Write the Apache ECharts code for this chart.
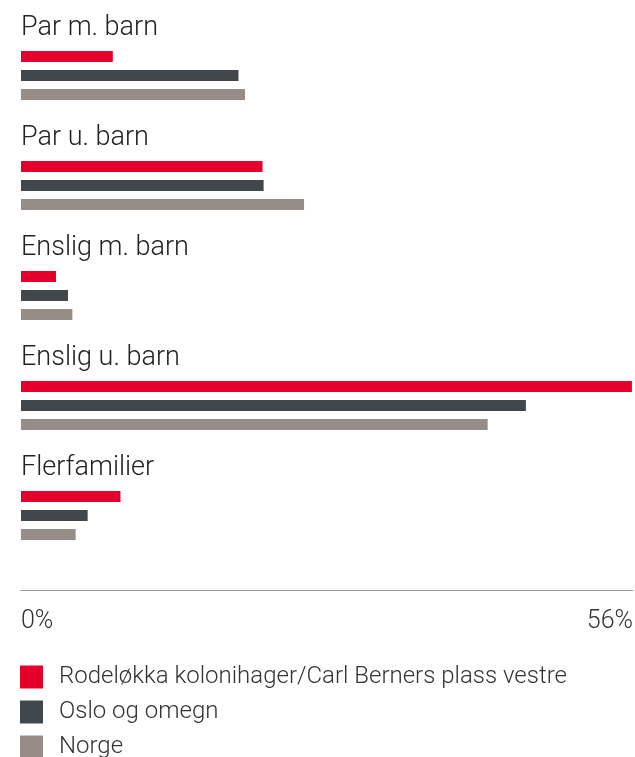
<!DOCTYPE html>
<html>
<head>
<meta charset="utf-8">
<script src="https://cdn.jsdelivr.net/npm/echarts@6/dist/echarts.min.js"></script>
<style>
  html, body { margin: 0; padding: 0; background: #fff; }
  #chart { width: 635px; height: 757px; }
</style>
</head>
<body>
<div id="chart"></div>
<script>
// kategorier og verdier (prosent)
var categories = ['Par m. barn', 'Par u. barn', 'Enslig m. barn', 'Enslig u. barn', 'Flerfamilier'];
var rodelokka = [8.4, 22.1, 3.2, 55.9, 9.1];
var oslo = [19.9, 22.2, 4.3, 46.2, 6.1];
var norge = [20.5, 25.9, 4.7, 42.7, 5.0];
var seriesNames = ['Rodeløkka kolonihager/Carl Berners plass vestre', 'Oslo og omegn', 'Norge'];
var axisMax = 56;

var font = 'Roboto, "Noto Sans", sans-serif';
var myChart = echarts.init(document.getElementById('chart'));

function bar (name, data, color) {
  return {
    name: name,
    type: 'bar',
    data: data,
    barWidth: 11,
    barGap: '73%',
    itemStyle: { color: color },
    silent: true
  };
}

var option = {
  animation: false,
  textStyle: { fontFamily: font },
  grid: {
    left: 21,
    right: 2,
    top: 20.5,
    height: 550,
    outerBoundsMode: 'none',
    containLabel: false
  },
  xAxis: {
    type: 'value',
    min: 0,
    max: axisMax,
    interval: axisMax,
    offset: 20,
    axisLine: { show: true, lineStyle: { color: '#9a9a9a', width: 1 } },
    axisTick: { show: false },
    splitLine: { show: false },
    axisLabel: {
      formatter: '{value}%',
      color: '#333',
      fontSize: 25,
      fontWeight: 300,
      fontFamily: font,
      margin: 19,
      alignMinLabel: 'left',
      alignMaxLabel: 'right'
    }
  },
  yAxis: {
    type: 'category',
    data: categories,
    inverse: true,
    axisLine: { show: false },
    axisTick: { show: false },
    axisLabel: {
      inside: true,
      margin: 0,
      align: 'left',
      verticalAlign: 'bottom',
      lineHeight: 95,
      color: '#222',
      fontSize: 27,
      fontWeight: 300,
      fontFamily: font
    }
  },
  legend: {
    orient: 'vertical',
    left: 20,
    top: 665,
    padding: 0,
    height: 120,
    icon: 'rect',
    itemWidth: 23,
    itemHeight: 23,
    itemGap: 11,
    selectedMode: false,
    textStyle: {
      color: '#333',
      fontSize: 24,
      lineHeight: 23,
      fontWeight: 300,
      fontFamily: font,
      padding: [0, 0, 0, 11]
    },
    data: seriesNames
  },
  series: [
    bar(seriesNames[0], rodelokka, '#e4002b'),
    bar(seriesNames[1], oslo, '#41474a'),
    bar(seriesNames[2], norge, '#968d88')
  ]
};

option && myChart.setOption(option);
</script>
</body>
</html>
